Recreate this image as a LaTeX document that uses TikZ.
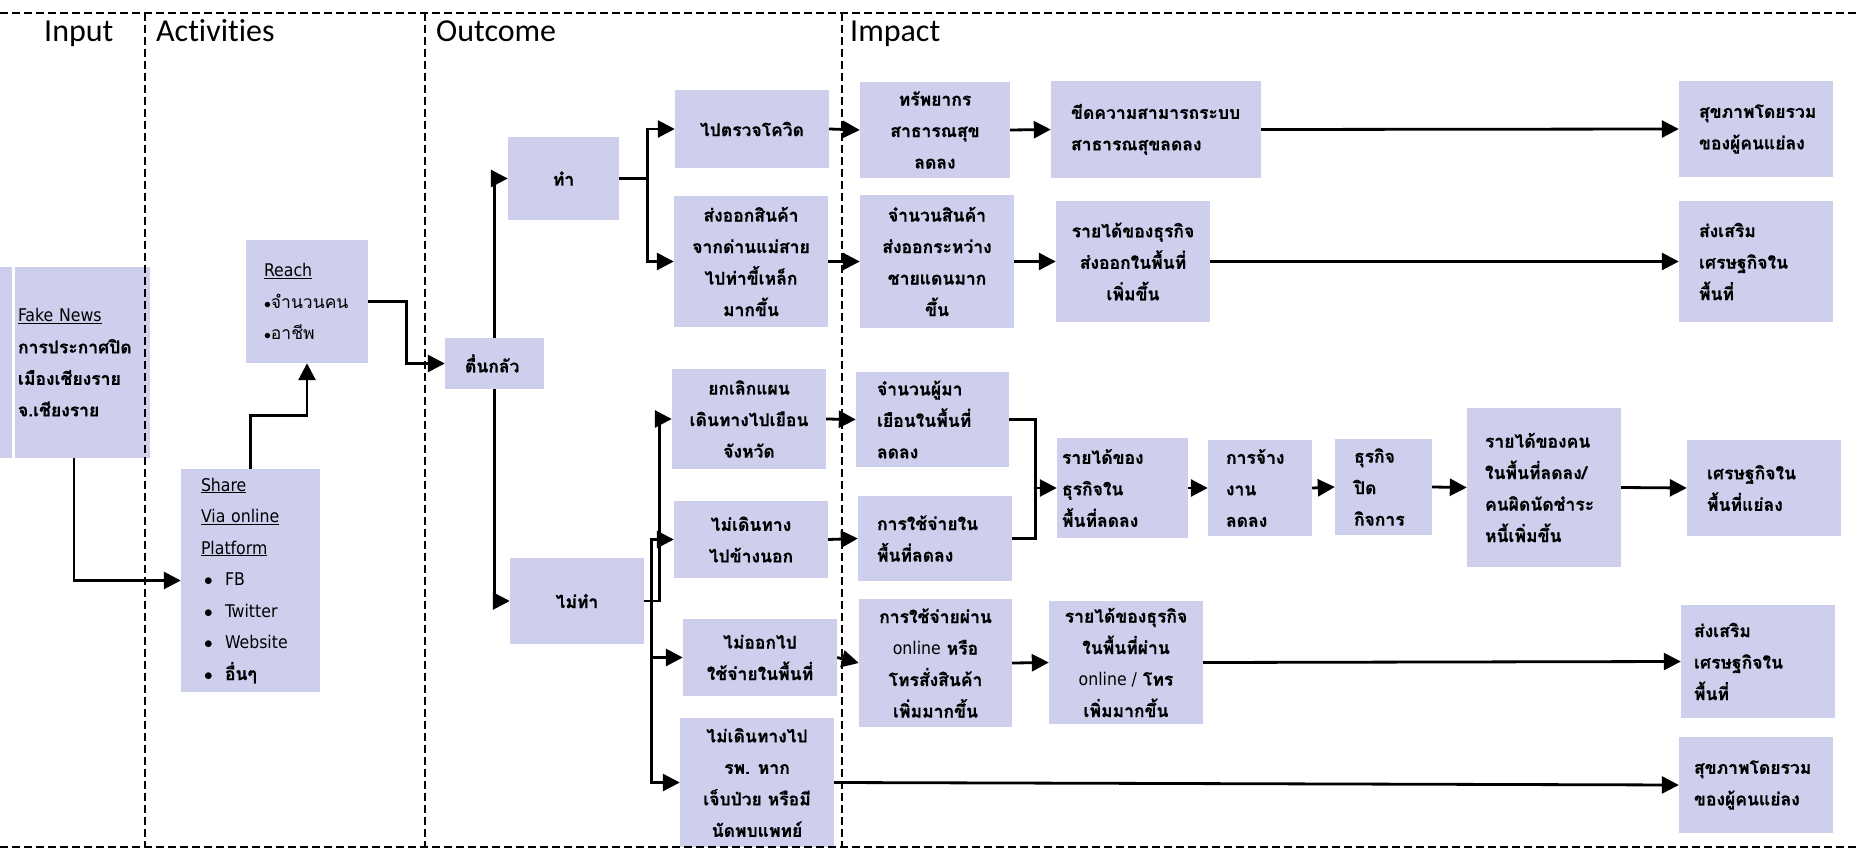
\documentclass[tikz,border=0pt]{standalone}
\usepackage{fontspec}
\setmainfont{Loma}[Script=Thai, BoldFeatures={FakeBold=0.6}]
\newfontfamily\headfont{Carlito}[Ligatures=NoCommon]
\newfontfamily\latfont{DejaVu Sans Condensed}
\newcommand{\lat}[1]{{\latfont\mdseries #1}}
\newcommand{\smbul}{\scalebox{0.8}{$\bullet$}}
\usetikzlibrary{arrows.meta}
\definecolor{boxc}{RGB}{206,206,237}
\begin{document}
\begin{tikzpicture}[x=1pt,y=-1pt,
  box/.style={fill=boxc, inner sep=0pt, font=\bfseries\fontsize{17.5}{31.5}\selectfont},
  cbox/.style={box, align=center},
  lbox/.style={box, align=left},
  arr/.style={line width=2.8pt, -{Triangle[length=17pt,width=17pt]}},
  ln/.style={line width=2.8pt},
  sepline/.style={line width=2.8pt, dash pattern=on 8pt off 4pt},
  head/.style={font=\headfont\fontsize{32}{38}\selectfont, anchor=base west, inner sep=0pt}
]
\useasboundingbox (0,0) rectangle (1860,850);

% headings
\node[head] (hin) at (44,42) {Input};
\node[head] (hact) at (156,42) {Activities};
\node[head] (hout) at (436,42) {Outcome};
\node[head] (himp) at (850,42) {Impact};

% input / activities
\node[box, minimum width=12pt, minimum height=191pt] (strip) at (6,362.5) {};
\node[lbox, minimum width=135pt, minimum height=191pt, text width=129pt] (fake) at (82.5,362.5)
  {\lat{\underline{Fake News}}\\การประกาศปิด\\เมืองเชียงราย\\จ.เชียงราย};
\node[lbox, minimum width=122pt, minimum height=123pt, text width=86pt, font=\mdseries\fontsize{17.5}{31.5}\selectfont] (reach) at (307,301.5)
  {\lat{\underline{Reach}}\\\smbul จำนวนคน\\\smbul อาชีพ};
\node[lbox, minimum width=139pt, minimum height=223pt, text width=99pt] (share) at (250.5,580.5)
  {\lat{\underline{Share}}\\\lat{\underline{Via online}}\\\lat{\underline{Platform}}\\
   \hspace*{3pt}\makebox[21pt][l]{$\bullet$}\lat{FB}\\
   \hspace*{3pt}\makebox[21pt][l]{$\bullet$}\lat{Twitter}\\
   \hspace*{3pt}\makebox[21pt][l]{$\bullet$}\lat{Website}\\
   \hspace*{3pt}\makebox[21pt][l]{$\bullet$}อื่นๆ};

% outcome
\node[lbox, minimum width=99pt, minimum height=51pt, text width=59pt] (tuen) at (494.5,363.5) {ตื่นกลัว};
\node[cbox, minimum width=111pt, minimum height=83pt] (tham) at (563.5,178.5) {ทำ};
\node[cbox, minimum width=134pt, minimum height=86pt] (maitham) at (577,601) {ไม่ทำ};
\node[cbox, minimum width=154pt, minimum height=78pt] (check) at (752,129) {ไปตรวจโควิด};
\node[cbox, minimum width=154pt, minimum height=131pt] (export) at (751,261.5)
  {ส่งออกสินค้า\\จากด่านแม่สาย\\ไปท่าขี้เหล็ก\\มากขึ้น};
\node[cbox, minimum width=154pt, minimum height=100pt] (cancel) at (749,419)
  {ยกเลิกแผน\\เดินทางไปเยือน\\จังหวัด};
\node[cbox, minimum width=154pt, minimum height=77pt] (notravel) at (751,539.5)
  {ไม่เดินทาง\\ไปข้างนอก};
\node[cbox, minimum width=154pt, minimum height=77pt] (noout) at (760,657.5)
  {ไม่ออกไป\\ใช้จ่ายในพื้นที่};
\node[cbox, minimum width=154pt, minimum height=129pt] (nohosp) at (757,782.5)
  {ไม่เดินทางไป\\รพ. หาก\\เจ็บป่วย หรือมี\\นัดพบแพทย์};

% impact
\node[cbox, minimum width=150pt, minimum height=96pt] (resource) at (935,130)
  {ทรัพยากร\\สาธารณสุข\\ลดลง};
\node[lbox, minimum width=210pt, minimum height=97pt, text width=170pt] (capacity) at (1156,129.5)
  {ขีดความสามารถระบบ\\สาธารณสุขลดลง};
\node[lbox, minimum width=154pt, minimum height=96pt, text width=114pt] (health1) at (1756,129)
  {สุขภาพโดยรวม\\ของผู้คนแย่ลง};
\node[cbox, minimum width=154pt, minimum height=133pt] (goods) at (937,261.5)
  {จำนวนสินค้า\\ส่งออกระหว่าง\\ชายแดนมาก\\ขึ้น};
\node[cbox, minimum width=154pt, minimum height=121pt] (exportinc) at (1133,261.5)
  {รายได้ของธุรกิจ\\ส่งออกในพื้นที่\\เพิ่มขึ้น};
\node[lbox, minimum width=154pt, minimum height=121pt, text width=114pt] (promote1) at (1756,261.5)
  {ส่งเสริม\\เศรษฐกิจใน\\พื้นที่};
\node[lbox, minimum width=153pt, minimum height=95pt, text width=111pt] (visitors) at (932.5,419.5)
  {จำนวนผู้มา\\เยือนในพื้นที่\\ลดลง};
\node[lbox, minimum width=154pt, minimum height=85pt, text width=116pt] (spendin) at (935,538.5)
  {การใช้จ่ายใน\\พื้นที่ลดลง};
\node[lbox, minimum width=131pt, minimum height=100pt, text width=121pt] (bizinc) at (1122.5,488)
  {รายได้ของ\\ธุรกิจใน\\พื้นที่ลดลง};
\node[lbox, minimum width=104pt, minimum height=96pt, text width=68pt] (hire) at (1260,488)
  {การจ้าง\\งาน\\ลดลง};
\node[lbox, minimum width=97pt, minimum height=96pt, text width=59pt] (close) at (1383.5,487)
  {ธุรกิจ\\ปิด\\กิจการ};
\node[lbox, minimum width=154pt, minimum height=159pt, text width=118pt] (peopleinc) at (1544,487.5)
  {รายได้ของคน\\ในพื้นที่ลดลง/\\คนผิดนัดชำระ\\หนี้เพิ่มขึ้น};
\node[lbox, minimum width=154pt, minimum height=96pt, text width=114pt] (econ) at (1764,488)
  {เศรษฐกิจใน\\พื้นที่แย่ลง};
\node[cbox, minimum width=153pt, minimum height=128pt] (online) at (935.5,663)
  {การใช้จ่ายผ่าน\\\lat{online} หรือ\\โทรสั่งสินค้า\\เพิ่มมากขึ้น};
\node[cbox, minimum width=154pt, minimum height=123pt] (onlineinc) at (1126,662.5)
  {รายได้ของธุรกิจ\\ในพื้นที่ผ่าน\\\lat{online /} โทร\\เพิ่มมากขึ้น};
\node[lbox, minimum width=154pt, minimum height=113pt, text width=128pt] (promote2) at (1758,661.5)
  {ส่งเสริม\\เศรษฐกิจใน\\พื้นที่};
\node[lbox, minimum width=154pt, minimum height=96pt, text width=124pt] (health2) at (1756,785)
  {สุขภาพโดยรวม\\ของผู้คนแย่ลง};

% connectors
\draw[arr] ([xshift=-8.5pt]fake.south) |- (share.west);
\draw[arr] (share.north) -- ++(0,-53) -| (reach.south);
\draw[arr] (reach.east) -- ++(38,0) |- (tuen.west);
\draw[arr] (tuen.north) |- (tham.west);
\draw[arr] (tuen.south) |- (maitham.west);
\draw[ln] (tham.east) -- ++(28,0) coordinate (tj);
\draw[arr] (tj) |- (check.west);
\draw[arr] (tj) |- (export.west);
\draw[arr] (maitham.east) -- ++(15,0) |- (cancel.west);
\draw[arr] (maitham.east) -- ++(7,0) |- (notravel.west);
\draw[arr] (maitham.east) -- ++(7,0) |- (noout.west);
\draw[arr] (maitham.east) -- ++(7,0) |- (nohosp.west);
\draw[arr] (check.east) -- (resource.west);
\draw[arr] (export.east) -- (goods.west);
\draw[arr] (resource.east) -- (capacity.west);
\draw[arr] (capacity.east) -- (health1.west);
\draw[arr] (goods.east) -- (exportinc.west);
\draw[arr] (exportinc.east) -- (promote1.west);
\draw[arr] (cancel.east) -- (visitors.west);
\draw[arr] (notravel.east) -- (spendin.west);
\draw[ln] (visitors.east) -- ++(26,0) |- (spendin.east);
\coordinate (mj) at (1035,488);
\draw[arr] (mj) -- (bizinc.west);
\draw[arr] (bizinc.east) -- (hire.west);
\draw[arr] (hire.east) -- (close.west);
\draw[arr] (close.east) -- (peopleinc.west);
\draw[arr] (peopleinc.east) -- (econ.west);
\draw[arr] (noout.east) -- (online.west);
\draw[arr] (online.east) -- (onlineinc.west);
\draw[arr] (onlineinc.east) -- (promote2.west);
\draw[arr] (nohosp.east) -- (health2.west);

% separators
\draw[sepline] (0,13) -- (1860,13);
\draw[sepline] (0,847) -- (1860,847);
\draw[sepline] (145,13) -- (145,847);
\draw[sepline] (425,13) -- (425,847);
\draw[sepline] (842,13) -- (842,847);
\end{tikzpicture}
\end{document}
